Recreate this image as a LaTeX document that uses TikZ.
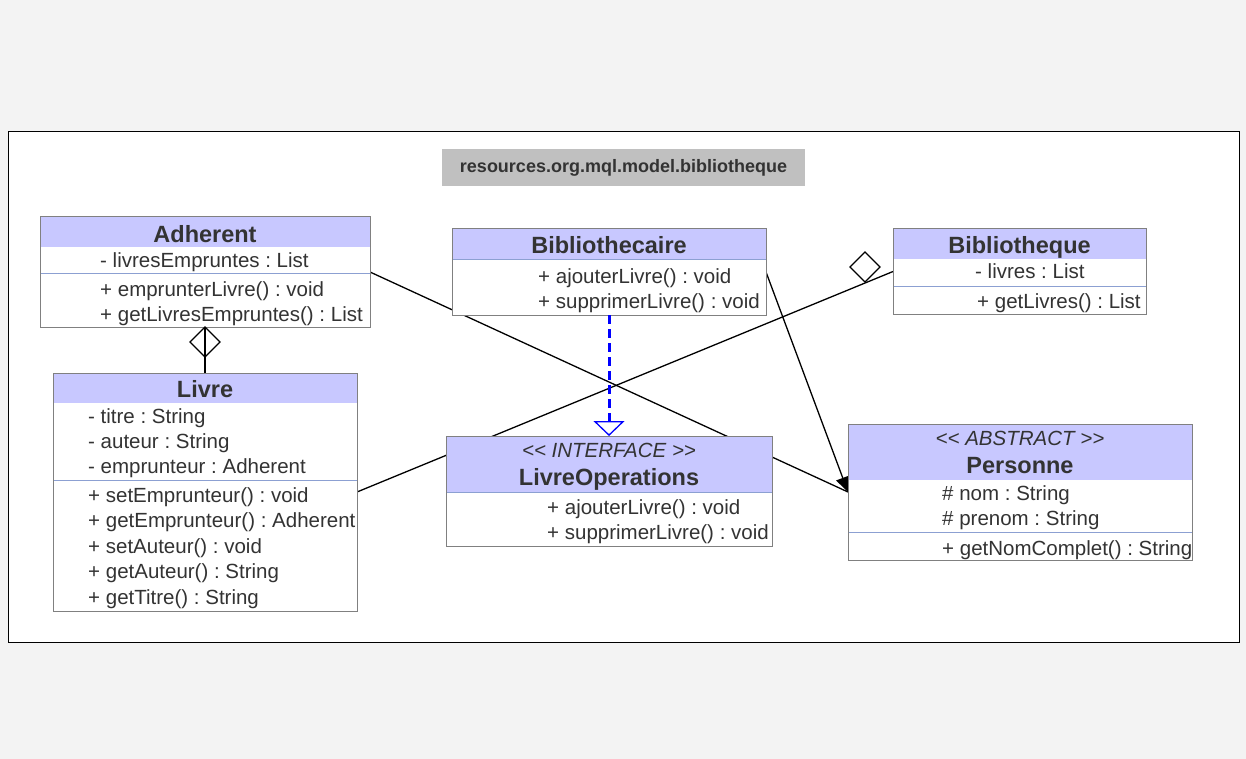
\documentclass[tikz,border=0pt]{standalone}
\usepackage{fontspec}
\setmainfont{Liberation Sans}
\usetikzlibrary{arrows.meta}
\usetikzlibrary{backgrounds}
\frenchspacing

\definecolor{pagegray}{RGB}{243,243,243}
\definecolor{pkggray}{RGB}{192,192,192}
\definecolor{headfill}{RGB}{200,200,255}
\definecolor{sepline}{RGB}{140,160,210}
\definecolor{umltext}{RGB}{51,51,51}
\definecolor{boxline}{RGB}{128,128,128}

\tikzset{
	classbox/.style={draw=boxline, line width=1pt, fill=white, anchor=north west,
		inner sep=0pt, outer sep=0pt},
	header/.style={fill=headfill},
	sep/.style={draw=sepline, line width=1pt},
	title/.style={font=\fontsize{23.5}{26}\selectfont\bfseries, text=umltext,
		anchor=base, inner sep=0pt},
	stereo/.style={font=\fontsize{20.5}{24}\selectfont\itshape, text=umltext,
		anchor=base, inner sep=0pt},
	member/.style={font=\fontsize{20.5}{24}\selectfont, text=umltext,
		anchor=base west, inner sep=0pt},
	assoc/.style={draw=black, line width=1.3pt},
	aggr/.style={draw=black, line width=1.3pt, fill=white},
	realize/.style={draw=blue, line width=3pt, dash pattern=on 9pt off 5pt,
		-{Triangle[open, length=15pt, width=31pt, line width=1.3pt]}},
}

\begin{document}
\begin{tikzpicture}[x=1pt, y=-1pt]
	\useasboundingbox (0,0) rectangle (1246,759);

	% Package name
	\node[fill=pkggray, minimum width=363pt, minimum height=37pt, inner sep=0pt,
		font=\fontsize{18}{20}\selectfont\bfseries, text=umltext]
		(pkg) at (623.5,167.5) {resources.org.mql.model.bibliotheque};

	% Adherent
	\node[classbox, minimum width=330pt, minimum height=110pt] (adherent) at (40,217) {};
	\fill[header] (40.5,217.5) rectangle (369.5,247);
	\draw[sep] (40.5,273) -- (369.5,273);
	\node[title] (adherentT) at (205,242) {Adherent};
	\node[member] (adherentA1) at (100,267) {- livresEmpruntes : List};
	\node[member] (adherentM1) at (100,296) {+ emprunterLivre() : void};
	\node[member] (adherentM2) at (100,321) {+ getLivresEmpruntes() : List};

	% Livre
	\node[classbox, minimum width=304pt, minimum height=238pt] (livre) at (53,373) {};
	\fill[header] (53.5,373.5) rectangle (356.5,403);
	\draw[sep] (53.5,480) -- (356.5,480);
	\node[title] (livreT) at (205,397) {Livre};
	\node[member] (livreA1) at (88,423) {- titre : String};
	\node[member] (livreA2) at (88,448) {- auteur : String};
	\node[member] (livreA3) at (88,473) {- emprunteur : Adherent};
	\node[member] (livreM1) at (88,502) {+ setEmprunteur() : void};
	\node[member] (livreM2) at (88,527) {+ getEmprunteur() : Adherent};
	\node[member] (livreM3) at (88,553) {+ setAuteur() : void};
	\node[member] (livreM4) at (88,578) {+ getAuteur() : String};
	\node[member] (livreM5) at (88,604) {+ getTitre() : String};

	% Bibliothecaire
	\node[classbox, minimum width=314pt, minimum height=86pt] (bibliothecaire) at (452,229) {};
	\fill[header] (452.5,229.5) rectangle (765.5,259);
	\draw[sep] (452.5,259) -- (765.5,259);
	\node[title] (bibliothecaireT) at (609,253) {Bibliothecaire};
	\node[member] (bibliothecaireM1) at (538,283) {+ ajouterLivre() : void};
	\node[member] (bibliothecaireM2) at (538,308) {+ supprimerLivre() : void};

	% LivreOperations
	\node[classbox, minimum width=326pt, minimum height=110pt] (livreops) at (446,436) {};
	\fill[header] (446.5,436.5) rectangle (771.5,492);
	\draw[sep] (446.5,492) -- (771.5,492);
	\node[stereo] (livreopsS) at (609,457) {{<}{<} INTERFACE {>}{>}};
	\node[title] (livreopsT) at (609,485) {LivreOperations};
	\node[member] (livreopsM1) at (547,514) {+ ajouterLivre() : void};
	\node[member] (livreopsM2) at (547,539) {+ supprimerLivre() : void};

	% Bibliotheque
	\node[classbox, minimum width=253pt, minimum height=85pt] (bibliotheque) at (893,229) {};
	\fill[header] (893.5,229.5) rectangle (1145.5,259);
	\draw[sep] (893.5,286) -- (1145.5,286);
	\node[title] (bibliothequeT) at (1019.5,253) {Bibliotheque};
	\node[member] (bibliothequeA1) at (975,278) {- livres : List};
	\node[member] (bibliothequeM1) at (977,308) {+ getLivres() : List};

	% Personne
	\node[classbox, minimum width=344pt, minimum height=136pt] (personne) at (848,424) {};
	\fill[header] (848.5,424.5) rectangle (1191.5,480);
	\draw[sep] (848.5,532) -- (1191.5,532);
	\node[stereo] (personneS) at (1020,445) {{<}{<} ABSTRACT {>}{>}};
	\node[title] (personneT) at (1020,473) {Personne};
	\node[member] (personneA1) at (942,500) {\# nom : String};
	\node[member] (personneA2) at (942,525) {\# prenom : String};
	\node[member] (personneM1) at (942,555) {+ getNomComplet() : String};

	% Relations (behind the boxes)
	\begin{pgfonlayer}{background}
		\fill[pagegray] (0,0) rectangle (1246,759);
		\draw[fill=white, line width=1pt] (8,132) rectangle (1239,642);

		\draw[assoc] (adherent.east) -- (personne.west);
		\draw[assoc, -{Triangle[length=15pt, width=14pt]}] (bibliothecaire.east) -- (personne.west);
		\draw[assoc] (livre.east) -- (bibliotheque.west);
		\draw[assoc] (adherent.south) -- (livre.north);
	\end{pgfonlayer}

	% Aggregation diamonds
	\draw[aggr, fill=none] (adherent.south) -- ++(15,15) -- ++(-15,15) -- ++(-15,-15) -- cycle;
	\coordinate (aggrB) at (865,282);
	\draw[aggr] (aggrB) -- ++(15,-15) -- ++(-15,-15) -- ++(-15,15) -- cycle;

	% Realization
	\draw[realize] (bibliothecaire.south) -- (livreops.north);
\end{tikzpicture}
\end{document}
